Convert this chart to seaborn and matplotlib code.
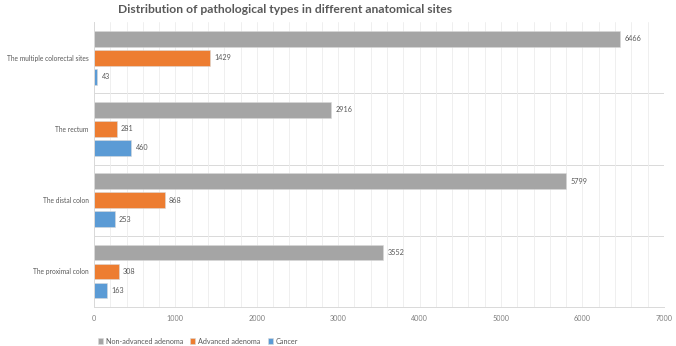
import numpy as np
import pandas as pd
import matplotlib
matplotlib.use("Agg")
import matplotlib.pyplot as plt
import seaborn as sns

sites = ["The multiple colorectal sites", "The rectum", "The distal colon", "The proximal colon"]
types = ["Non-advanced adenoma", "Advanced adenoma", "Cancer"]
non_advanced = [6466, 2916, 5799, 3552]
advanced = [1429, 281, 868, 308]
cancer = [43, 460, 253, 163]
colors = ["#A5A5A5", "#ED7D31", "#5B9BD5"]

rows = []
for s, a, b, c in zip(sites, non_advanced, advanced, cancer):
    rows.append({"Site": s, "Type": types[0], "Count": a})
    rows.append({"Site": s, "Type": types[1], "Count": b})
    rows.append({"Site": s, "Type": types[2], "Count": c})
df = pd.DataFrame(rows)

sns.set_theme(style="white")
plt.rcParams["font.family"] = ["Lato", "DejaVu Sans"]

fig = plt.figure(figsize=(6.76, 3.46), dpi=100)
ax = fig.add_axes([0.139, 0.113, 0.843, 0.823])

sns.barplot(data=df, y="Site", x="Count", hue="Type", order=sites, hue_order=types,
            palette=colors, saturation=1, orient="h", width=0.8, gap=0.18, ax=ax,
            edgecolor="#d9d9d9", linewidth=0.4)

for cont in ax.containers:
    ax.bar_label(cont, fmt="%d", padding=3, fontsize=5.2, color="#595959")

ax.set_xlim(0, 7000)
ax.set_ylim(3.5, -0.5)
ax.set_xticks(np.arange(0, 7001, 1000))
ax.set_xticks(np.arange(0, 7001, 200), minor=True)
ax.tick_params(axis="x", which="both", length=0, labelsize=5.2, labelcolor="#7f7f7f", pad=6)
ax.tick_params(axis="y", length=0, labelsize=4.8, labelcolor="#595959", pad=4)
ax.grid(axis="x", which="both", color="#ececec", linewidth=0.6)
ax.set_axisbelow(True)
for yb in [0.5, 1.5, 2.5]:
    ax.axhline(yb, color="#d9d9d9", linewidth=0.7, zorder=0)
ax.set_xlabel("")
ax.set_ylabel("")
for sp in ["top", "right"]:
    ax.spines[sp].set_visible(False)
ax.spines["left"].set_color("#d9d9d9")
ax.spines["bottom"].set_color("#d9d9d9")
ax.spines["left"].set_linewidth(0.7)
ax.spines["bottom"].set_linewidth(0.7)

ax.legend(loc="lower left", bbox_to_anchor=(-0.005, -0.155), ncol=3, frameon=False,
          fontsize=5.2, handlelength=0.7, handleheight=0.7, handletextpad=0.4,
          columnspacing=1.0, labelcolor="#595959")

fig.text(0.422, 0.972, "Distribution of pathological types in different anatomical sites",
         ha="center", va="center", fontsize=8.7, fontweight="bold", color="#595959")

fig.savefig("out.png", dpi=100)
